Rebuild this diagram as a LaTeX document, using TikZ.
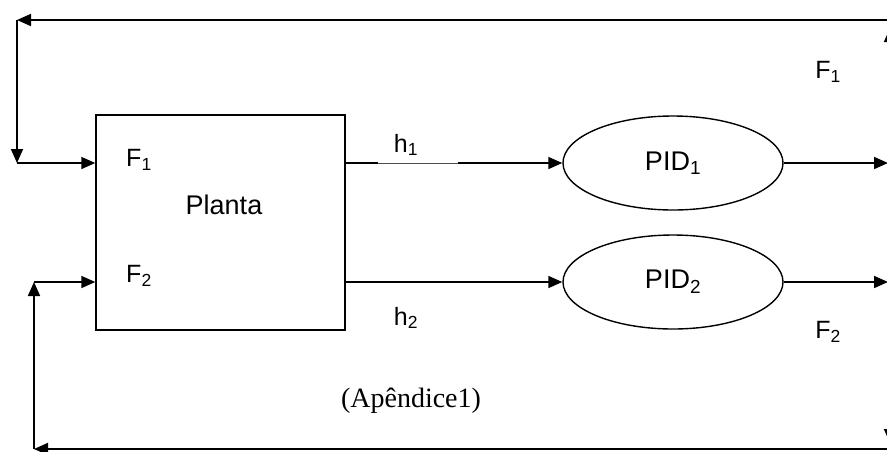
\documentclass[tikz,border=0pt]{standalone}
\usepackage{fontspec}
\setmainfont{Liberation Sans}
\newfontfamily\timesf{Liberation Serif}
\usetikzlibrary{arrows.meta,shapes.geometric}

\begin{document}
\begin{tikzpicture}[x=1pt,y=-1pt,
  wire/.style={line width=1.7pt},
  arr/.style={wire,-{Triangle[length=14pt,width=12pt]}},
  blockbox/.style={draw,line width=1.4pt,minimum width=249pt,minimum height=215pt,inner sep=0pt},
  ctrl/.style={draw,ellipse,line width=1.4pt,minimum width=220pt,minimum height=94pt,inner sep=0pt,
    font=\fontsize{27}{32}\selectfont},
  lbl/.style={font=\fontsize{25}{30}\selectfont,inner sep=0pt},
  biglbl/.style={font=\fontsize{27}{32}\selectfont,inner sep=0pt}]
\useasboundingbox (0,0) rectangle (887,451);
\clip (0,0) rectangle (887,451);

% blocks
\node[blockbox] (plant) at (220.5,222.5) {};
\node[ctrl] (pid1) at (673,163) {PID\textsubscript{1}};
\node[ctrl] (pid2) at (673,282) {PID\textsubscript{2}};

% loop corners and line ends
\coordinate (tl) at (17,20);
\coordinate (tr) at (890,20);
\coordinate (in1) at (17,163);
\coordinate (bl) at (34,449);
\coordinate (br) at (890,449);
\coordinate (in2) at (34,282);
\coordinate (o1) at (888,163);
\coordinate (o2) at (888,282);
\coordinate (r1) at (890,163);
\coordinate (r2) at (890,282);
\coordinate (up) at (890,28);
\coordinate (dn) at (890,443);

% feedback path of F1
\draw[arr] (tr) -- (tl);
\draw[arr] (tl) -- (in1);
\draw[arr] (in1) -- (in1 -| plant.west);
\draw[arr] (r1) -- (up);

% feedback path of F2
\draw[arr] (br) -- (bl);
\draw[arr] (bl) -- (in2);
\draw[arr] (in2) -- (in2 -| plant.west);
\draw[arr] (r2) -- (dn);

% measured levels
\draw[arr] (plant.east |- pid1.west) -- (pid1.west);
\draw[white,line width=1.8pt] (378,163) -- (458,163);
\draw[black!70,line width=0.8pt] (378,163) -- (458,163);
\draw[arr] (plant.east |- pid2.west) -- (pid2.west);

% controller outputs
\draw[arr] (pid1.east) -- (o1);
\draw[arr] (pid2.east) -- (o2);

% labels
\node[lbl] (lf1) at (139,160) {F\textsubscript{1}};
\node[lbl] (lf2) at (139,276) {F\textsubscript{2}};
\node[biglbl] (lplant) at (224,205) {Planta};
\node[lbl] (lh1) at (406,145) {h\textsubscript{1}};
\node[lbl] (lh2) at (406,318) {h\textsubscript{2}};
\node[lbl] (rf1) at (828,72) {F\textsubscript{1}};
\node[lbl] (rf2) at (828,332) {F\textsubscript{2}};
\node[inner sep=0pt,font=\timesf\fontsize{28}{33}\selectfont] (apx) at (411,401) {(Apêndice1)};
\end{tikzpicture}
\end{document}
